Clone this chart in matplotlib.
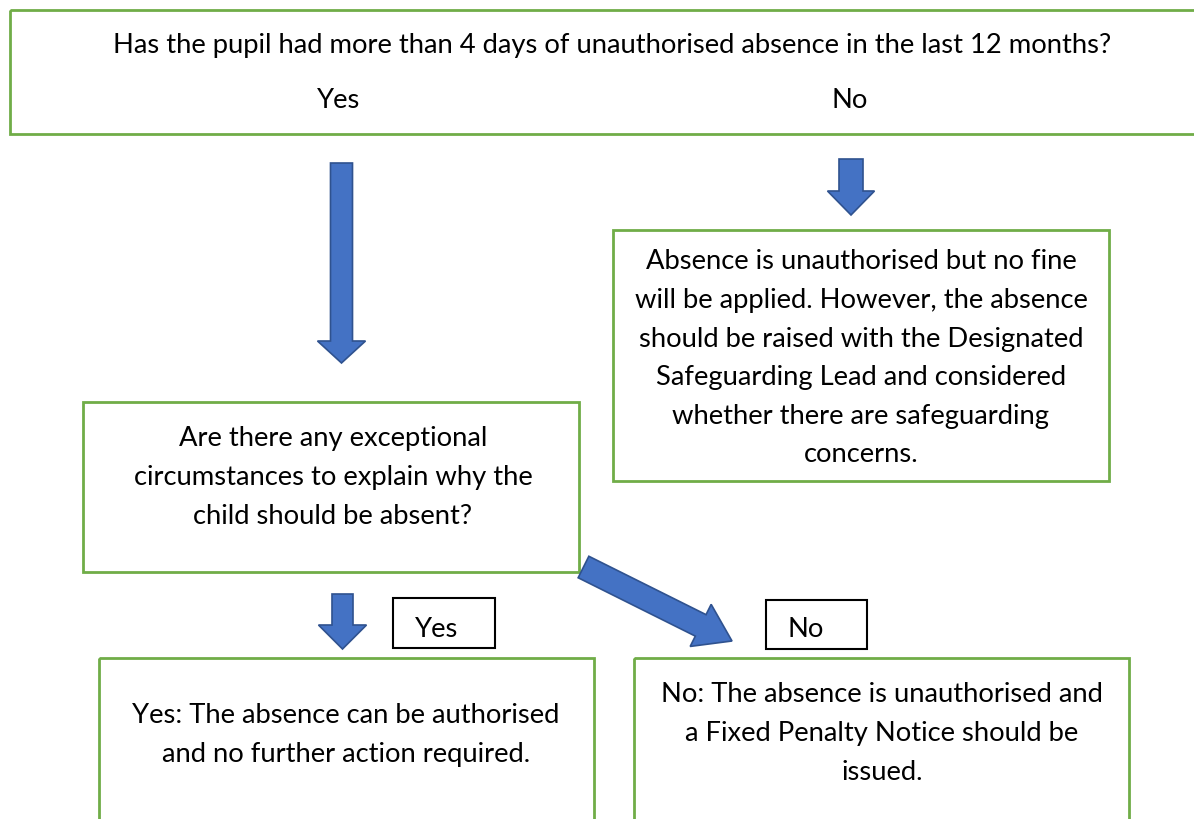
import matplotlib.pyplot as plt
from matplotlib.patches import Rectangle, FancyArrow

plt.rcParams['font.family'] = ['Lato', 'DejaVu Sans']

GREEN = '#70AD47'
BLUE = '#4472C4'
BLUE_EDGE = '#2F528F'

# texts of the flowchart
question_1 = 'Has the pupil had more than 4 days of unauthorised absence in the last 12 months?'
answers_1 = ['Yes', 'No']
no_outcome = ['Absence is unauthorised but no fine',
              'will be applied. However, the absence',
              'should be raised with the Designated',
              'Safeguarding Lead and considered',
              'whether there are safeguarding',
              'concerns.']
question_2 = ['Are there any exceptional',
              'circumstances to explain why the',
              'child should be absent?']
answers_2 = ['Yes', 'No']
yes_outcome = ['Yes: The absence can be authorised',
               'and no further action required.']
no_outcome_2 = ['No: The absence is unauthorised and',
                'a Fixed Penalty Notice should be',
                'issued.']

W, H = 1194, 820
FS = 19.7
STEP = 38.6

fig = plt.figure(figsize=(W / 100, H / 100), dpi=100)
ax = fig.add_axes([0, 0, 1, 1])
ax.set_xlim(0, W)
ax.set_ylim(H, 0)
ax.axis('off')


def box(x0, y0, x1, y1, color=GREEN, lw=2.0):
    ax.add_patch(Rectangle((x0, y0), x1 - x0, y1 - y0, fill=False,
                           edgecolor=color, linewidth=lw))


def lines(xc, y0, txt, ha='center'):
    for i, t in enumerate(txt):
        ax.text(xc, y0 + i * STEP, t, fontsize=FS, ha=ha, va='center',
                color='black')


def arrow(x0, y0, x1, y1, width, head_width, head_length):
    ax.add_patch(FancyArrow(x0, y0, x1 - x0, y1 - y0, width=width,
                            head_width=head_width, head_length=head_length,
                            length_includes_head=True, facecolor=BLUE,
                            edgecolor=BLUE_EDGE, linewidth=1.2))


# top question
box(10, 11, 1215, 135)
lines(612, 45, [question_1])
lines(339, 101, [answers_1[0]])
lines(850, 101, [answers_1[1]])

# arrows from top box
arrow(341.5, 164, 341.5, 364, 22, 48, 22)
arrow(851, 160, 851, 216, 24, 47, 24)

# no -> safeguarding box
box(613, 231, 1109, 482)
lines(861, 262, no_outcome)

# second question
box(83, 403, 579, 573)
lines(333, 439, question_2)

# answers to second question
arrow(342.5, 595, 342.5, 650, 21, 48, 24)
arrow(583.5, 568, 732, 642, 24, 47, 35)
box(393, 599, 495, 649, color='black', lw=1.5)
lines(415, 630, [answers_2[0]], ha='left')
box(766, 601, 867, 650, color='black', lw=1.5)
lines(787, 630, [answers_2[1]], ha='left')

# outcomes
box(99, 659, 594, 840)
lines(346, 716, yes_outcome)
box(634, 659, 1129, 840)
lines(882, 695, no_outcome_2)

fig.savefig('out.png', dpi=100, facecolor='white')
